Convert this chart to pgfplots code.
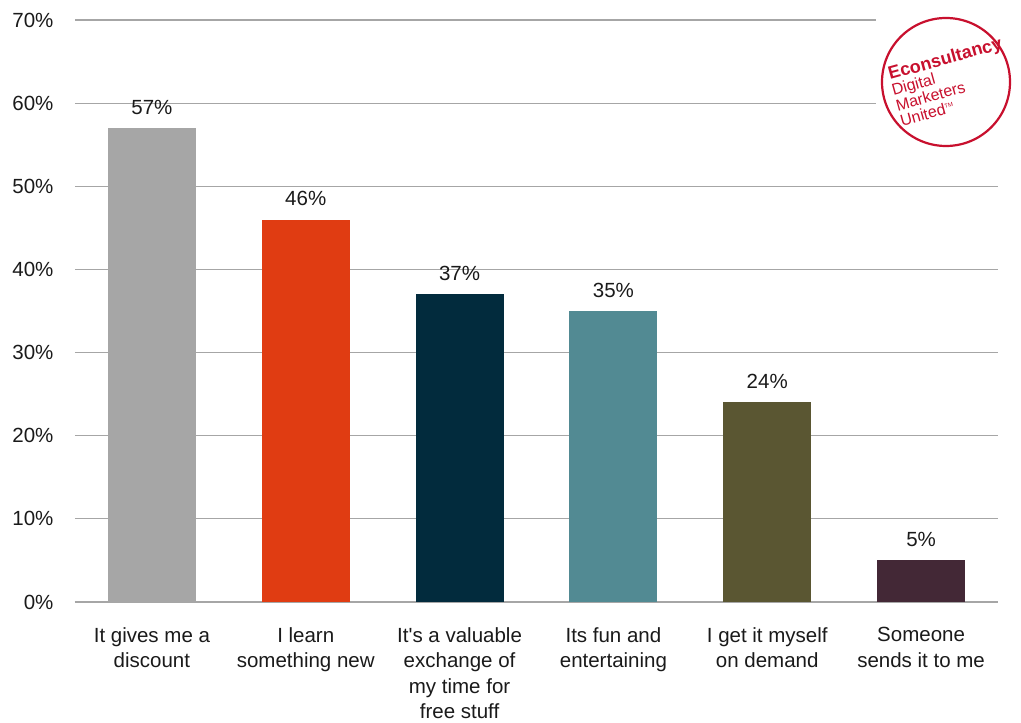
\documentclass[border=0pt]{standalone}
\usepackage{pgfplots}
\pgfplotsset{compat=1.18}
\usepackage{fontspec}
\setmainfont{Liberation Sans}

\definecolor{gridgray}{HTML}{A6A6A6}
\definecolor{txt}{HTML}{1A1A1A}
\definecolor{cGray}{HTML}{A6A6A6}
\definecolor{cRed}{HTML}{E03C12}
\definecolor{cNavy}{HTML}{022B3D}
\definecolor{cTeal}{HTML}{528A93}
\definecolor{cOlive}{HTML}{5A5632}
\definecolor{cPlum}{HTML}{432836}
\definecolor{logored}{HTML}{C8102E}

\newcommand\chartfont{\fontsize{20.5}{25.5}\selectfont}

\begin{document}
\begin{tikzpicture}[x=1pt,y=1pt]
\path[use as bounding box] (0,0) rectangle (1021,723);
\begin{axis}[
  at={(75pt,121pt)}, anchor=south west,
  scale only axis, width=923pt, height=582pt,
  xmin=-0.5, xmax=5.5, ymin=0, ymax=70,
  axis x line*=bottom, axis y line*=left,
  x axis line style={draw=gridgray, line width=1.2pt},
  y axis line style={draw=none},
  ytick={0,10,...,70},
  yticklabel={\pgfmathprintnumber{\tick}\%},
  ymajorgrids, grid style={draw=gridgray, line width=1.2pt},
  major tick length=0pt,
  xtick={0,1,2,3,4,5},
  xticklabels={{It gives me a\\discount},{I learn\\something new},{It\textquotesingle s a valuable\\exchange of\\my time for\\free stuff},{Its fun and\\entertaining},{I get it myself\\on demand},{Someone\\sends it to me}},
  xticklabel style={align=center, font=\chartfont, text=txt, anchor=north, yshift=-22pt},
  yticklabel style={font=\chartfont, text=txt, anchor=east, xshift=-18pt},
  /pgf/number format/assume math mode=true,
  ybar, bar width=88pt, bar shift=0pt,
  nodes near coords={\pgfmathprintnumber{\pgfplotspointmeta}\%},
  every node near coord/.append style={font=\chartfont, text=txt, yshift=10pt},
  clip=false,
]
\addplot[fill=cGray, draw=none]  coordinates {(0,57)};
\addplot[fill=cRed, draw=none]   coordinates {(1,46)};
\addplot[fill=cNavy, draw=none]  coordinates {(2,37)};
\addplot[fill=cTeal, draw=none]  coordinates {(3,35)};
\addplot[fill=cOlive, draw=none] coordinates {(4,24)};
\addplot[fill=cPlum, draw=none]  coordinates {(5,5)};
\end{axis}
% logo badge
\fill[white] (876,723-155) rectangle (1021,723);
\draw[logored, line width=2.2pt] (946,723-82) circle (64);
\begin{scope}[shift={(890,723-80)}, rotate=15.5, transform shape]
  \node[anchor=base west, inner sep=0pt, text=logored, font=\fontsize{18}{18}\selectfont\bfseries] at (0,0) {Econsultancy};
  \node[anchor=base west, inner sep=0pt, text=logored, font=\fontsize{16}{16}\selectfont] at (-1,-16) {Digital};
  \node[anchor=base west, inner sep=0pt, text=logored, font=\fontsize{16}{16}\selectfont] at (-1,-32) {Marketers};
  \node[anchor=base west, inner sep=0pt, text=logored, font=\fontsize{16}{16}\selectfont] at (-1,-48) {United\raisebox{6pt}{\fontsize{6}{6}\selectfont TM}};
\end{scope}
\end{tikzpicture}
\end{document}
